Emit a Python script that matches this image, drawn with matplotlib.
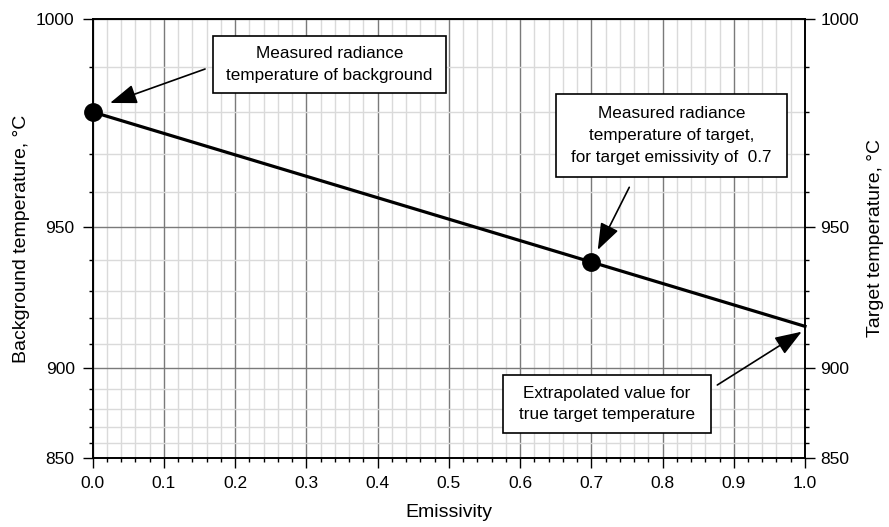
import numpy as np
import matplotlib
matplotlib.use('Agg')
import matplotlib.pyplot as plt
from matplotlib.patches import Rectangle
from matplotlib.ticker import FixedLocator, FormatStrFormatter, NullFormatter

# data
emissivity_line = [0.0, 1.0]
temperature_line = [980.0, 917.0]
emissivity_points = [0.0, 0.7]
temperature_points = [980.0, 939.5]

x_major = [0.0, 0.1, 0.2, 0.3, 0.4, 0.5, 0.6, 0.7, 0.8, 0.9, 1.0]
y_major = [850, 900, 950, 1000]
y_minor = list(range(850, 1001, 10))

note_background = 'Measured radiance\ntemperature of background'
note_target = 'Measured radiance\ntemperature of target,\nfor target emissivity of  0.7'
note_true = 'Extrapolated value for\ntrue target temperature'

plt.rcParams['font.family'] = ['Liberation Sans', 'DejaVu Sans']

C2 = 14388.0  # um K, radiance scale at 1 um


def to_radiance(t):
    t = np.asarray(t, dtype=float)
    with np.errstate(all='ignore'):
        return 1e5 * np.exp(-C2 / (t + 273.15))


def from_radiance(r):
    r = np.asarray(r, dtype=float)
    with np.errstate(all='ignore'):
        return -C2 / np.log(r / 1e5) - 273.15


fig = plt.figure(figsize=(8.89, 5.27), dpi=100)
ax = fig.add_axes([0.1043, 0.1309, 0.8012, 0.8331])
ax2 = ax.twinx()

for a in (ax, ax2):
    a.set_yscale('function', functions=(to_radiance, from_radiance))
    a.set_ylim(850, 1000)
    a.yaxis.set_major_locator(FixedLocator(y_major))
    a.yaxis.set_minor_locator(FixedLocator(y_minor))
    a.yaxis.set_major_formatter(FormatStrFormatter('%d'))
    a.yaxis.set_minor_formatter(NullFormatter())

ax.set_xlim(0, 1.0)
ax.xaxis.set_major_locator(FixedLocator(x_major))
ax.xaxis.set_minor_locator(FixedLocator(np.arange(0, 1.001, 0.02)))
ax.xaxis.set_major_formatter(FormatStrFormatter('%.1f'))

ax.grid(which='minor', color='#dadada', lw=1.0)
ax.grid(which='major', color='#7a7a7a', lw=1.0)
ax.set_axisbelow(True)

ax.tick_params(which='major', direction='out', length=7, width=1.0, labelsize=12.5, pad=6)
ax.tick_params(which='minor', direction='out', length=3.2, width=1.0)
ax2.tick_params(which='major', direction='out', length=7, width=1.0, labelsize=12.5, pad=4)
ax2.tick_params(which='minor', direction='out', length=3.2, width=1.0)
for a in (ax, ax2):
    for s in a.spines.values():
        s.set_linewidth(1.2)

ax.plot(emissivity_line, temperature_line, color='black', lw=2.3, solid_capstyle='projecting',
        clip_on=False, zorder=4)
ax.plot(emissivity_points, temperature_points, 'o', color='black', ms=12.5, clip_on=False, zorder=5)

ax.set_xlabel('Emissivity', fontsize=14, labelpad=9)
ax.set_ylabel('Background temperature, \u00b0C', fontsize=14, labelpad=4)
ax2.set_ylabel('Target temperature, \u00b0C', fontsize=14, labelpad=6)

# note boxes: (x0, y0, x1, y1) in axes fraction
boxes = [
    ((0.1693, 0.8308, 0.496, 0.962), note_background),
    ((0.6504, 0.6401, 0.9743, 0.8292), note_target),
    ((0.5764, 0.0563, 0.868, 0.1891), note_true),
]
for (x0, y0, x1, y1), txt in boxes:
    ax.add_patch(Rectangle((x0, y0), x1 - x0, y1 - y0, transform=ax.transAxes,
                           fc='white', ec='black', lw=1.2, zorder=6))
    ax.text((x0 + x1) / 2, (y0 + y1) / 2, txt, transform=ax.transAxes, ha='center', va='center',
            fontsize=12.3, linespacing=1.55, zorder=7)

head = dict(arrowstyle='-|>,head_length=1.1,head_width=0.4', color='black', lw=1.2,
            shrinkA=0, shrinkB=0, mutation_scale=15)
ax.annotate('', xy=(0.0243, 0.8087), xytext=(0.1577, 0.886), xycoords='axes fraction',
            arrowprops=head, zorder=6)
ax.annotate('', xy=(0.709, 0.4738), xytext=(0.7533, 0.6166), xycoords='axes fraction',
            arrowprops=head, zorder=6)
ax.annotate('', xy=(0.9954, 0.2877), xytext=(0.8769, 0.1663), xycoords='axes fraction',
            arrowprops=head, zorder=6)

fig.savefig('out.png', dpi=100)
